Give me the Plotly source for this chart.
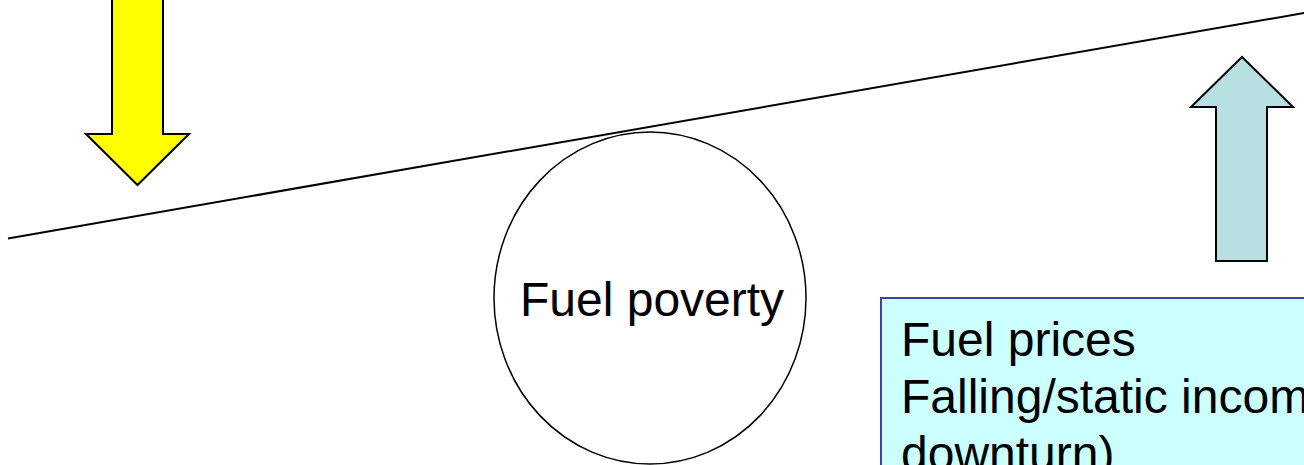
import plotly.graph_objects as go

# ---- content ----
center_label = "Fuel poverty"
box_lines = ["Fuel prices", "Falling/static income (economic", "downturn)"]

W, H = 1304, 465
FONT = "Arial, Liberation Sans, sans-serif"

# seesaw beam endpoints (pixel space)
beam_x = [8, 1312]
beam_y = [238.4, 11.6]

# fulcrum ellipse
fulcrum = dict(x0=494, x1=806, y0=132, y1=464)

# yellow down arrow: shaft x, head x, head base y, tip y
down_arrow = dict(sx0=112, sx1=163, top=-10, hx0=86, hx1=189, hy=134, tip_x=137.5, tip_y=185)
# blue up arrow
up_arrow = dict(sx0=1216, sx1=1267, bottom=261, hx0=1191, hx1=1293, hy=107, tip_x=1242, tip_y=57)

# text box
box = dict(x0=881, y0=298, x1=1320, y1=480)

fig = go.Figure()
fig.add_trace(go.Scatter(x=beam_x, y=beam_y, mode="lines",
                         line=dict(color="black", width=2), hoverinfo="skip", showlegend=False))

shapes = []
# text box
shapes.append(dict(type="rect", xref="x", yref="y", x0=box["x0"], y0=box["y0"], x1=box["x1"], y1=box["y1"],
                   fillcolor="#CCFFFF", line=dict(color="#3F3FA8", width=2), layer="below"))
# fulcrum
shapes.append(dict(type="circle", xref="x", yref="y", **fulcrum,
                   fillcolor="white", line=dict(color="black", width=1.5), layer="above"))

d = down_arrow
path_down = (f"M {d['sx0']},{d['top']} L {d['sx1']},{d['top']} L {d['sx1']},{d['hy']} L {d['hx1']},{d['hy']} "
             f"L {d['tip_x']},{d['tip_y']} L {d['hx0']},{d['hy']} L {d['sx0']},{d['hy']} Z")
shapes.append(dict(type="path", xref="x", yref="y", path=path_down,
                   fillcolor="#FFFF00", line=dict(color="black", width=2)))
u = up_arrow
path_up = (f"M {u['sx0']},{u['bottom']} L {u['sx1']},{u['bottom']} L {u['sx1']},{u['hy']} L {u['hx1']},{u['hy']} "
           f"L {u['tip_x']},{u['tip_y']} L {u['hx0']},{u['hy']} L {u['sx0']},{u['hy']} Z")
shapes.append(dict(type="path", xref="x", yref="y", path=path_up,
                   fillcolor="#B8DFE2", line=dict(color="black", width=2)))

annotations = [dict(x=652, y=299, xref="x", yref="y", text=center_label, showarrow=False,
                    xanchor="center", yanchor="middle", font=dict(family=FONT, size=48, color="black"))]
line_y = [339, 396, 453]
for txt, yy in zip(box_lines, line_y):
    annotations.append(dict(x=899, y=yy, xref="x", yref="y", text=txt, showarrow=False,
                            xanchor="left", yanchor="middle", align="left",
                            font=dict(family=FONT, size=48, color="black")))

fig.update_layout(
    width=W, height=H, margin=dict(l=0, r=0, t=0, b=0),
    paper_bgcolor="white", plot_bgcolor="white",
    xaxis=dict(range=[0, W], visible=False, fixedrange=True),
    yaxis=dict(range=[H, 0], visible=False, fixedrange=True),
    shapes=shapes, annotations=annotations, showlegend=False,
)

fig.write_html("out.html", config={"displayModeBar": False},
               post_script="document.body.style.margin='0';document.body.style.overflow='hidden';")
